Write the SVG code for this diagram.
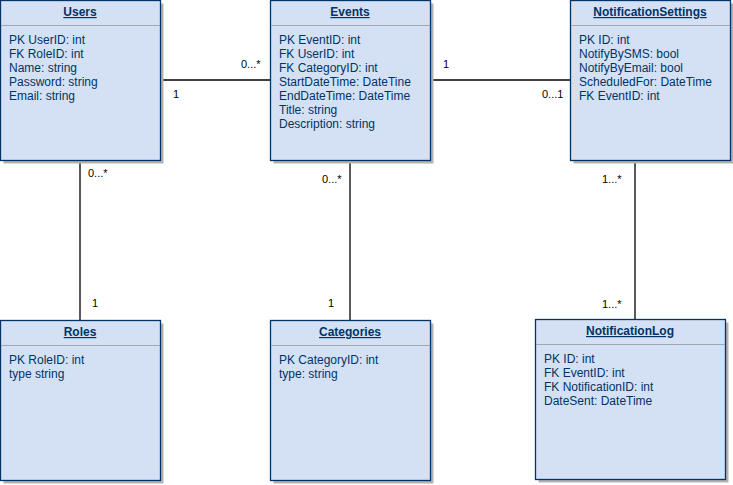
<svg xmlns="http://www.w3.org/2000/svg" width="733" height="485" viewBox="0 0 733 485">
<style>
.shadow{fill:#b3b3b3;}
.box{fill:#d4e1f5;stroke:#003366;stroke-width:1.3;}
.sep{stroke:#a0a7b0;stroke-width:1;}
.title{font-family:"Liberation Sans",Arial,sans-serif;font-size:12px;font-weight:bold;fill:#003366;text-anchor:middle;text-decoration:underline;}
.attr{font-family:"Liberation Sans",Arial,sans-serif;font-size:12px;fill:#003366;}
.conn line{stroke:#000;stroke-width:1.3;}
.lbl{font-family:"Liberation Sans",Arial,sans-serif;font-size:11px;fill:#000;}
</style>
<rect width="733" height="485" fill="#fff"/>
<g id="connectors" class="conn">
<line x1="160" y1="80" x2="270" y2="80"/>
<line x1="430" y1="80" x2="570" y2="80"/>
<line x1="80" y1="160" x2="80" y2="320"/>
<line x1="350" y1="160" x2="350" y2="320"/>
<line x1="635" y1="160" x2="635" y2="320"/>
</g>
<g id="labels">
<text class="lbl" x="241" y="68">0...*</text>
<text class="lbl" x="173" y="98">1</text>
<text class="lbl" x="443" y="68">1</text>
<text class="lbl" x="542" y="98">0...1</text>
<text class="lbl" x="88" y="177">0...*</text>
<text class="lbl" x="92" y="307">1</text>
<text class="lbl" x="322" y="183">0...*</text>
<text class="lbl" x="328" y="307">1</text>
<text class="lbl" x="602" y="183">1...*</text>
<text class="lbl" x="602" y="308">1...*</text>
</g>
<g id="users">
<rect class="shadow" x="3.5" y="3.5" width="160" height="160"/>
<rect class="box" x="0.5" y="0.5" width="160" height="160"/>
<line class="sep" x1="1" y1="25.5" x2="160" y2="25.5"/>
<text class="title" x="80" y="16">Users</text>
<text class="attr" x="9" y="44">PK UserID: int</text>
<text class="attr" x="9" y="58">FK RoleID: int</text>
<text class="attr" x="9" y="72">Name: string</text>
<text class="attr" x="9" y="86">Password: string</text>
<text class="attr" x="9" y="100">Email: string</text>
</g>
<g id="events">
<rect class="shadow" x="273.5" y="3.5" width="160" height="160"/>
<rect class="box" x="270.5" y="0.5" width="160" height="160"/>
<line class="sep" x1="271" y1="25.5" x2="430" y2="25.5"/>
<text class="title" x="350" y="16">Events</text>
<text class="attr" x="279" y="44">PK EventID: int</text>
<text class="attr" x="279" y="58">FK UserID: int</text>
<text class="attr" x="279" y="72">FK CategoryID: int</text>
<text class="attr" x="279" y="86">StartDateTime: DateTine</text>
<text class="attr" x="279" y="100">EndDateTime: DateTime</text>
<text class="attr" x="279" y="114">Title: string</text>
<text class="attr" x="279" y="128">Description: string</text>
</g>
<g id="notificationSettings">
<rect class="shadow" x="573.5" y="3.5" width="160" height="160"/>
<rect class="box" x="570.5" y="0.5" width="160" height="160"/>
<line class="sep" x1="571" y1="25.5" x2="730" y2="25.5"/>
<text class="title" x="650" y="16">NotificationSettings</text>
<text class="attr" x="579" y="44">PK ID: int</text>
<text class="attr" x="579" y="58">NotifyBySMS: bool</text>
<text class="attr" x="579" y="72">NotifyByEmail: bool</text>
<text class="attr" x="579" y="86">ScheduledFor: DateTime</text>
<text class="attr" x="579" y="100">FK EventID: int</text>
</g>
<g id="roles">
<rect class="shadow" x="3.5" y="323.5" width="160" height="160"/>
<rect class="box" x="0.5" y="320.5" width="160" height="160"/>
<line class="sep" x1="1" y1="345.5" x2="160" y2="345.5"/>
<text class="title" x="80" y="336">Roles</text>
<text class="attr" x="9" y="364">PK RoleID: int</text>
<text class="attr" x="9" y="378">type string</text>
</g>
<g id="categories">
<rect class="shadow" x="273.5" y="323.5" width="160" height="160"/>
<rect class="box" x="270.5" y="320.5" width="160" height="160"/>
<line class="sep" x1="271" y1="345.5" x2="430" y2="345.5"/>
<text class="title" x="350" y="336">Categories</text>
<text class="attr" x="279" y="364">PK CategoryID: int</text>
<text class="attr" x="279" y="378">type: string</text>
</g>
<g id="notificationLog">
<rect class="shadow" x="538.5" y="322.5" width="190" height="160"/>
<rect class="box" x="535.5" y="319.5" width="190" height="160"/>
<line class="sep" x1="536" y1="344.5" x2="725" y2="344.5"/>
<text class="title" x="630" y="335">NotificationLog</text>
<text class="attr" x="544" y="363">PK ID: int</text>
<text class="attr" x="544" y="377">FK EventID: int</text>
<text class="attr" x="544" y="391">FK NotificationID: int</text>
<text class="attr" x="544" y="405">DateSent: DateTime</text>
</g>
</svg>
